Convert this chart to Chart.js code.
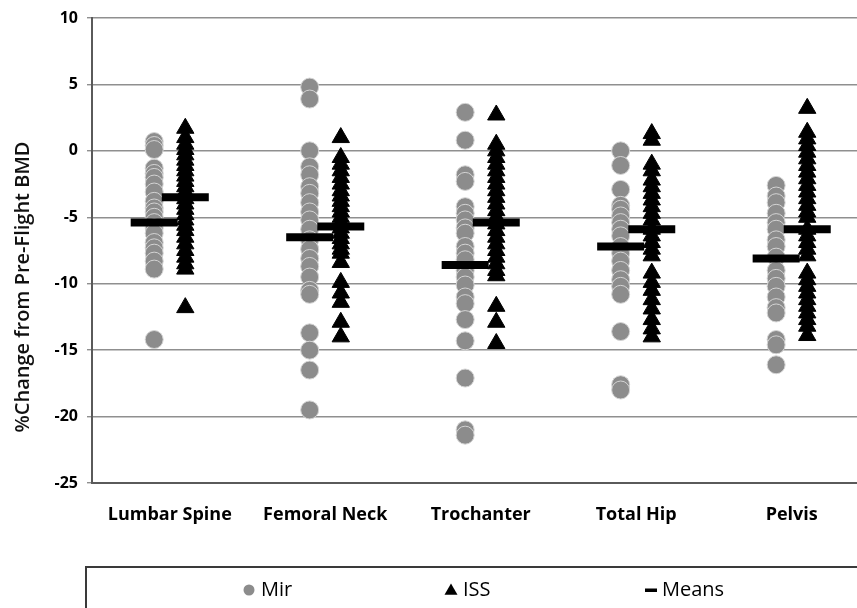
<!DOCTYPE html>
<html>
<head>
<meta charset="utf-8">
<script src="https://cdn.jsdelivr.net/npm/chart.js@4.4.1/dist/chart.umd.min.js"></script>
<style>
  html, body { margin: 0; padding: 0; background: #fff; overflow: hidden; }
</style>
</head>
<body>
<canvas id="bmdChart" width="857" height="608"></canvas>
<script>
const sites = ["Lumbar Spine", "Femoral Neck", "Trochanter", "Total Hip", "Pelvis"];
const yTicks = [10, 5, 0, -5, -10, -15, -20, -25];
const yTitle = "%Change from Pre-Flight BMD";

// Mir crew, % change per site
const mirLumbar = [0.7, 0.4, 0.1, -1.3, -1.7, -2.0, -2.5, -3.1, -3.8, -4.3, -4.6, -5.0, -5.4, -5.8, -6.2, -6.9, -7.3, -7.7, -8.3, -8.9, -14.2];
const mirFemoral = [4.8, 3.9, 0.0, -1.2, -1.8, -2.7, -3.2, -3.9, -4.6, -5.2, -5.9, -6.7, -7.4, -8.1, -8.7, -9.5, -10.5, -10.8, -13.7, -15.0, -16.5, -19.5];
const mirTrochanter = [2.9, 0.8, -1.8, -2.3, -4.2, -4.7, -5.2, -5.8, -6.2, -7.2, -7.7, -8.2, -9.0, -9.5, -10.1, -11.0, -11.5, -12.7, -14.3, -17.1, -21.0, -21.4];
const mirTotalHip = [0.0, -1.1, -2.9, -4.1, -4.4, -4.9, -5.4, -5.9, -6.4, -7.2, -7.7, -8.3, -9.0, -9.7, -10.2, -10.8, -13.6, -17.6, -18.0];
const mirPelvis = [-2.6, -3.4, -3.9, -4.7, -5.4, -5.9, -6.7, -7.2, -8.0, -9.0, -9.6, -10.2, -11.0, -11.8, -12.2, -14.2, -14.6, -16.1];

// ISS crew, % change per site
const issLumbar = [1.7, 1.0, 0.5, 0.1, -0.3, -0.7, -1.1, -1.5, -1.9, -2.3, -2.7, -3.1, -3.6, -4.0, -4.4, -4.8, -5.2, -5.6, -6.0, -6.5, -7.0, -7.5, -8.0, -8.5, -8.9, -11.8];
const issFemoral = [1.0, -0.5, -1.0, -1.5, -2.0, -2.5, -3.0, -3.4, -3.8, -4.2, -4.6, -5.0, -5.4, -5.8, -6.2, -6.6, -7.0, -7.4, -7.7, -8.4, -9.9, -10.7, -11.4, -12.9, -14.0];
const issTrochanter = [2.7, 0.5, 0.0, -0.5, -1.0, -1.5, -2.0, -2.5, -3.0, -3.5, -4.0, -4.5, -5.0, -5.5, -6.0, -6.5, -7.0, -7.5, -8.0, -8.5, -9.0, -9.4, -11.7, -12.9, -14.5];
const issTotalHip = [1.3, 0.8, -1.0, -1.5, -2.2, -2.7, -3.2, -3.7, -4.2, -4.7, -5.2, -5.9, -6.4, -6.9, -7.4, -7.9, -9.2, -9.9, -10.5, -11.2, -11.9, -12.7, -13.4, -14.0];
const issPelvis = [3.2, 1.4, 0.9, 0.4, -0.1, -0.6, -1.1, -1.6, -2.1, -2.6, -3.1, -3.6, -4.1, -4.6, -5.0, -5.9, -6.4, -6.9, -7.4, -7.9, -9.2, -9.7, -10.2, -10.7, -11.2, -11.7, -12.2, -12.7, -13.2, -13.9];

const mirMeans = [-5.4, -6.5, -8.6, -7.2, -8.1];
const issMeans = [-3.5, -5.7, -5.4, -5.9, -5.9];

const mirBySite = [mirLumbar, mirFemoral, mirTrochanter, mirTotalHip, mirPelvis];
const issBySite = [issLumbar, issFemoral, issTrochanter, issTotalHip, issPelvis];

// small horizontal shift so the two crews sit side by side
const MIR_SHIFT = -0.1;
const ISS_SHIFT = 0.1;

function toPoints(groups, shift) {
  const pts = [];
  groups.forEach((vals, i) => vals.forEach(v => pts.push({ x: i + 1 + shift, y: v })));
  return pts;
}

const meanPoints = mirMeans.map((v, i) => ({ x: i + 1 + MIR_SHIFT, y: v }))
  .concat(issMeans.map((v, i) => ({ x: i + 1 + ISS_SHIFT, y: v })));

const FONT = "'Open Sans', 'DejaVu Sans', sans-serif";

// y title, drawn where the original figure has it
const yTitlePlugin = {
  id: "yTitlePlugin",
  afterDraw(chart) {
    const ctx = chart.ctx;
    ctx.save();
    ctx.translate(23, 287);
    ctx.rotate(-Math.PI / 2);
    ctx.font = "600 20px " + FONT;
    ctx.fillStyle = "#111";
    ctx.textAlign = "center";
    ctx.textBaseline = "middle";
    ctx.fillText(yTitle, 0, 0);
    ctx.restore();
  }
};

// boxed legend under the axis
const legendBoxPlugin = {
  id: "legendBoxPlugin",
  afterDraw(chart) {
    const ctx = chart.ctx;
    const ds = chart.data.datasets;
    ctx.save();
    ctx.strokeStyle = "#3a3a3a";
    ctx.lineWidth = 2;
    ctx.strokeRect(86, 567, 820, 80);

    ctx.font = "20px " + FONT;
    ctx.fillStyle = "#000";
    ctx.textBaseline = "middle";
    ctx.textAlign = "left";
    const cy = 590;

    // Mir
    ctx.fillStyle = ds[2].backgroundColor;
    Chart.helpers.drawPoint(ctx, { pointStyle: "circle", radius: 5.5, borderWidth: 0 }, 249, cy);
    ctx.fillStyle = "#000";
    ctx.fillText(ds[2].label, 261, cy);

    // ISS
    ctx.fillStyle = ds[1].backgroundColor;
    Chart.helpers.drawPoint(ctx, { pointStyle: "triangle", radius: 7.5, borderWidth: 0 }, 451, cy + 1);
    ctx.fillStyle = "#000";
    ctx.fillText(ds[1].label, 463, cy);

    // Means
    ctx.fillStyle = "#000";
    ctx.fillRect(645, cy - 1.5, 12, 3.5);
    ctx.fillText(ds[0].label, 662, cy);
    ctx.restore();
  }
};

new Chart(document.getElementById("bmdChart"), {
  type: "scatter",
  data: {
    datasets: [
      {
        label: "Means",
        data: meanPoints,
        pointStyle: "line",
        pointRadius: 23.5,
        borderColor: "#000",
        backgroundColor: "#000",
        pointBorderWidth: 8
      },
      {
        label: "ISS",
        data: toPoints(issBySite, ISS_SHIFT),
        pointStyle: "triangle",
        pointRadius: 10,
        backgroundColor: "#000",
        borderColor: "#000",
        pointBorderWidth: 1
      },
      {
        label: "Mir",
        data: toPoints(mirBySite, MIR_SHIFT),
        pointStyle: "circle",
        pointRadius: 9,
        backgroundColor: "#8c8c8c",
        borderColor: "#d4d4d4",
        pointBorderWidth: 1
      }
    ]
  },
  options: {
    responsive: false,
    animation: false,
    events: [],
    layout: { autoPadding: false, padding: { top: 18, right: 0, bottom: 82, left: 0 } },
    plugins: {
      legend: { display: false },
      tooltip: { enabled: false }
    },
    scales: {
      x: {
        type: "linear",
        min: 0.5,
        max: 5.42,
        afterBuildTicks: scale => {
          scale.ticks = sites.map((s, i) => ({ value: i + 1 }));
        },
        afterFit: scale => {
          scale.height = 43;
          scale.paddingLeft = 0;
          scale.paddingRight = 0;
        },
        ticks: {
          autoSkip: false,
          maxRotation: 0,
          padding: 21,
          color: "#000",
          font: { family: FONT, size: 18, weight: "bold" },
          callback: v => sites[v - 1]
        },
        grid: { display: false, drawTicks: false },
        border: { display: true, color: "#5a5a5a", width: 2 }
      },
      y: {
        min: -25,
        max: 10,
        afterBuildTicks: scale => {
          scale.ticks = yTicks.map(v => ({ value: v }));
        },
        afterFit: scale => {
          scale.width = 92;
          scale.paddingTop = 0;
          scale.paddingBottom = 0;
        },
        ticks: {
          padding: 9,
          color: "#000",
          font: { family: FONT, size: 16, weight: "bold" }
        },
        grid: { color: "#8f8f8f", lineWidth: 1.4, tickLength: 5 },
        border: { display: true, color: "#5a5a5a", width: 2 }
      }
    }
  },
  plugins: [yTitlePlugin, legendBoxPlugin]
});
</script>
</body>
</html>
